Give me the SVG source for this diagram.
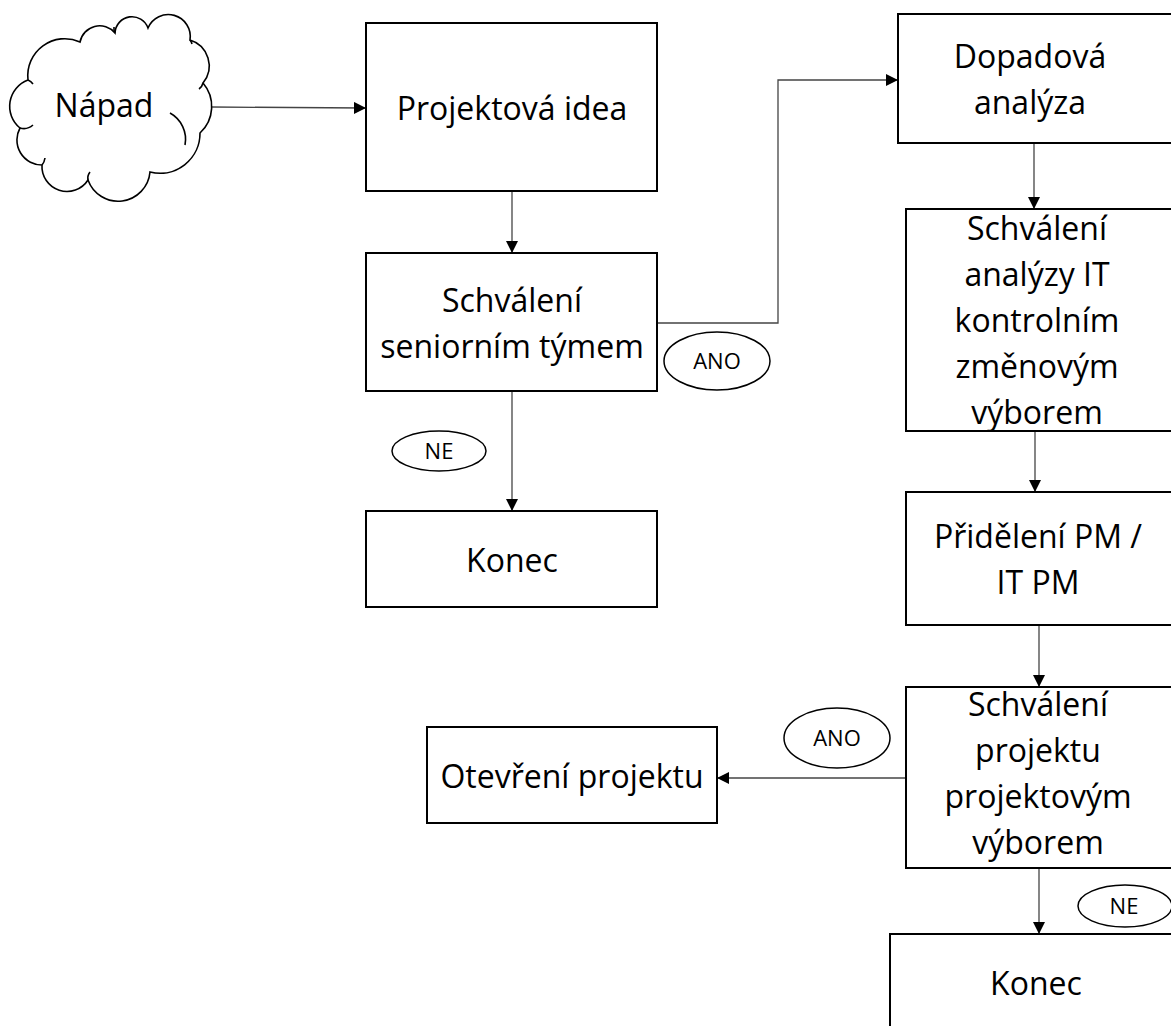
<svg xmlns="http://www.w3.org/2000/svg" width="1171" height="1026" viewBox="0 0 1171 1026">
<style>
.box{fill:#fff;stroke:#000;stroke-width:2}
.lbl{fill:#fff;stroke:#000;stroke-width:1.5}
.t{font-family:"Open Sans","Noto Sans","DejaVu Sans",sans-serif;font-size:32px;fill:#000;text-anchor:middle}
.s{font-family:"Open Sans","Noto Sans","DejaVu Sans",sans-serif;font-size:22px;fill:#000;text-anchor:middle}
.c{fill:none;stroke:#444;stroke-width:1.3}
.cl{fill:none;stroke:#000;stroke-width:1.6}
</style>
<defs>
<marker id="ah" markerWidth="12" markerHeight="12" refX="11" refY="6" orient="auto" markerUnits="userSpaceOnUse">
<path d="M0,0 L12,6 L0,12 Z" fill="#000"/>
</marker>
</defs>
<rect width="1171" height="1026" fill="#fff"/>
<g id="connectors">
<path class="c" d="M212,107 L365,108" marker-end="url(#ah)"/>
<path class="c" d="M512,191 L512,252" marker-end="url(#ah)"/>
<path class="c" d="M657,323 L778,323 L778,80 L897,80" marker-end="url(#ah)"/>
<path class="c" d="M512,391 L512,510" marker-end="url(#ah)"/>
<path class="c" d="M1034,143 L1034,208" marker-end="url(#ah)"/>
<path class="c" d="M1035,431 L1035,491" marker-end="url(#ah)"/>
<path class="c" d="M1039,625 L1039,686" marker-end="url(#ah)"/>
<path class="c" d="M906,778 L718,778" marker-end="url(#ah)"/>
<path class="c" d="M1039,868 L1039,933" marker-end="url(#ah)"/>
</g>
<g id="napad">
<path d="M80,42 A20,20 0 0 1 115,33 A17,17 0 0 1 148,28 A22,22 0 0 1 190,40 A27,27 0 0 1 203,83 A36,36 0 0 1 200,133 A40,40 0 0 1 150,172 A32,32 0 0 1 88,180 A25,25 0 0 1 42,165 A25,25 0 0 1 20,128 A28,28 0 0 1 28,80 A37,37 0 0 1 80,42 Z" fill="#fff" stroke="#000" stroke-width="1.6"/>
<path class="cl" d="M170,113 A30,30 0 0 1 185,145"/>
<path class="cl" d="M28,80 A12,12 0 0 1 33,84"/>
<path class="cl" d="M20,128 A14,14 0 0 0 33,125"/>
<path class="cl" d="M42,165 A14,14 0 0 0 45,158"/>
<path class="cl" d="M88,180 A10,10 0 0 1 90,172"/>
<path class="cl" d="M115,33 A10,10 0 0 1 114,27"/>
<path class="cl" d="M190,40 A10,10 0 0 1 192,44"/>
<path class="cl" d="M203,83 A10,10 0 0 1 199,89"/>
<text class="t" x="104" y="117">Nápad</text>
</g>
<g id="projektova-idea">
<rect class="box" x="366" y="23" width="291" height="168"/>
<text class="t" x="512" y="120">Projektová idea</text>
</g>
<g id="schvaleni-senior">
<rect class="box" x="366" y="253" width="291" height="138"/>
<text class="t" x="512" y="312">Schválení</text>
<text class="t" x="512" y="358">seniorním týmem</text>
</g>
<g id="konec1">
<rect class="box" x="366" y="511" width="291" height="96"/>
<text class="t" x="512" y="572">Konec</text>
</g>
<g id="ano1">
<ellipse class="lbl" cx="717" cy="361" rx="53" ry="29"/>
<text class="s" x="717" y="369">ANO</text>
</g>
<g id="ne1">
<ellipse class="lbl" cx="439" cy="451" rx="47" ry="20"/>
<text class="s" x="439" y="459">NE</text>
</g>
<g id="dopadova">
<rect class="box" x="898" y="14" width="285" height="129"/>
<text class="t" x="1030" y="68">Dopadová</text>
<text class="t" x="1030" y="114">analýza</text>
</g>
<g id="schvaleni-analyzy">
<rect class="box" x="906" y="209" width="277" height="222"/>
<text class="t" x="1037" y="240">Schválení</text>
<text class="t" x="1037" y="286">analýzy IT</text>
<text class="t" x="1037" y="332">kontrolním</text>
<text class="t" x="1037" y="378">změnovým</text>
<text class="t" x="1037" y="424">výborem</text>
</g>
<g id="prideleni">
<rect class="box" x="906" y="492" width="277" height="133"/>
<text class="t" x="1038" y="548">Přidělení PM /</text>
<text class="t" x="1038" y="594">IT PM</text>
</g>
<g id="schvaleni-projektu">
<rect class="box" x="906" y="687" width="277" height="181"/>
<text class="t" x="1038" y="716">Schválení</text>
<text class="t" x="1038" y="762">projektu</text>
<text class="t" x="1038" y="808">projektovým</text>
<text class="t" x="1038" y="854">výborem</text>
</g>
<g id="otevreni">
<rect class="box" x="427" y="727" width="290" height="96"/>
<text class="t" x="572" y="788">Otevření projektu</text>
</g>
<g id="ano2">
<ellipse class="lbl" cx="837" cy="738" rx="53" ry="30"/>
<text class="s" x="837" y="746">ANO</text>
</g>
<g id="konec2">
<rect class="box" x="890" y="934" width="293" height="100"/>
<text class="t" x="1036" y="995">Konec</text>
</g>
<g id="ne2">
<ellipse class="lbl" cx="1125" cy="906" rx="47" ry="21"/>
<text class="s" x="1124" y="914">NE</text>
</g>
</svg>
